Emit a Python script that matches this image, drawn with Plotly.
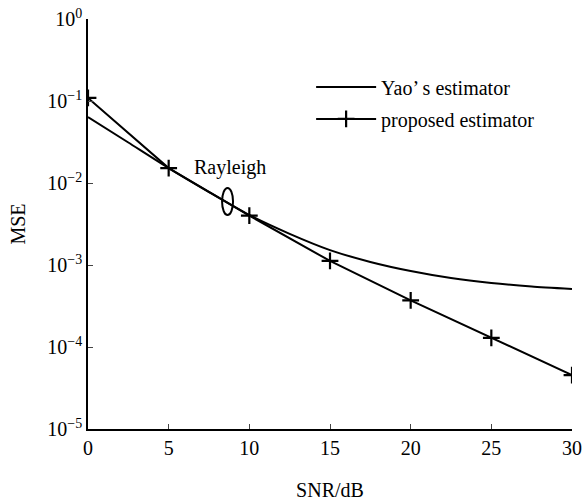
import plotly.graph_objects as go

# Data
snr_yao = [0, 2.5, 5, 7.5, 10, 12.5, 15, 17.5, 20, 22.5, 25, 27.5, 30]
mse_yao = [0.0638, 0.0312, 0.0152, 0.00776, 0.00407, 0.0024, 0.00152,
           0.00109, 8.45e-4, 6.94e-4, 6.03e-4, 5.47e-4, 5.1e-4]

snr_prop = [0, 5, 10, 15, 20, 25, 30]
mse_prop = [0.109, 0.0152, 0.0040, 0.00112, 3.7e-4, 1.29e-4, 4.55e-5]

x_ticks = [0, 5, 10, 15, 20, 25, 30]
y_tickvals = [1, 1e-1, 1e-2, 1e-3, 1e-4, 1e-5]
y_ticktext = ["10<sup>0</sup>", "10<sup>−1</sup>", "10<sup>−2</sup>",
              "10<sup>−3</sup>", "10<sup>−4</sup>", "10<sup>−5</sup>"]

FONT = "Liberation Serif"

fig = go.Figure()
fig.add_trace(go.Scatter(
    x=snr_yao, y=mse_yao, mode="lines", name="Yao’ s estimator",
    line=dict(color="black", width=2, shape="spline", smoothing=0.6),
    legendgroup="a"))
fig.add_trace(go.Scatter(
    x=snr_prop, y=mse_prop, mode="lines+markers", name="proposed estimator",
    line=dict(color="black", width=2),
    marker=dict(symbol="cross-thin", size=12, line=dict(color="black", width=2.2)),
    legendgroup="b"))

fig.add_annotation(x=8.8, y=-1.805, xref="x", yref="y", text="Rayleigh",
                   showarrow=False, font=dict(family=FONT, size=20, color="black"))
fig.add_shape(type="circle", xref="x", yref="paper",
              x0=8.31, x1=8.99, y0=(429 - 215) / 410, y1=(429 - 188) / 410,
              line=dict(color="black", width=2))

fig.update_layout(
    width=588, height=501,
    margin=dict(l=88, r=16, t=19, b=72),
    paper_bgcolor="white", plot_bgcolor="white",
    font=dict(family=FONT, size=20, color="black"),
    showlegend=True,
    legend=dict(x=0.461, y=0.882, xanchor="left", yanchor="top",
                bgcolor="rgba(0,0,0,0)", font=dict(family=FONT, size=20),
                tracegroupgap=3, itemwidth=60),
    xaxis=dict(range=[0, 30], tickvals=x_ticks, ticks="inside", ticklen=5,
               showline=True, linecolor="black", linewidth=1.5, automargin=False,
               showgrid=False, zeroline=False, tickfont=dict(size=20),
               title=dict(text="SNR/dB", standoff=30, font=dict(size=20))),
    yaxis=dict(type="log", range=[-5, 0], tickvals=y_tickvals, ticktext=y_ticktext,
               ticks="inside", ticklen=5, showline=True, linecolor="black",
               linewidth=1.5, showgrid=False, zeroline=False, tickfont=dict(size=20),
               automargin=False,
               title=dict(text="MSE", standoff=16, font=dict(size=20))),
)

fig.write_html("out.html", config={"displayModeBar": False},
               post_script="document.body.style.margin='0';")
